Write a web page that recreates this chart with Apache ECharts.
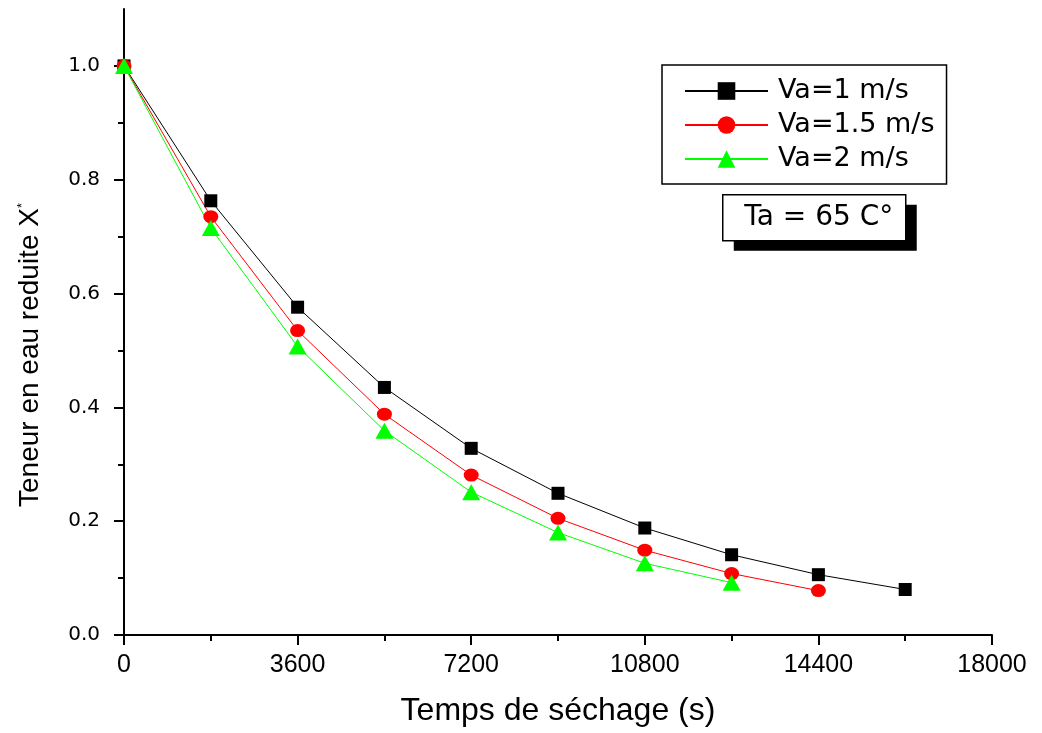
<!DOCTYPE html>
<html>
<head>
<meta charset="utf-8">
<script src="https://cdn.jsdelivr.net/npm/echarts@6/dist/echarts.min.js"></script>
<style>html,body{margin:0;padding:0;background:#fff}#c{width:1042px;height:733px}</style>
</head>
<body>
<div id="c"></div>
<script>
const times = [0, 1800, 3600, 5400, 7200, 9000, 10800, 12600, 14400, 16200];
const va1 = [1.0, 0.763, 0.576, 0.435, 0.328, 0.249, 0.188, 0.141, 0.106, 0.080];
const va15 = [1.0, 0.735, 0.535, 0.388, 0.281, 0.205, 0.149, 0.108, 0.078];
const va2 = [1.0, 0.715, 0.507, 0.359, 0.251, 0.180, 0.126, 0.092];
const seriesNames = ['Va=1 m/s', 'Va=1.5 m/s', 'Va=2 m/s'];
const yMajorTicks = [0, 0.2, 0.4, 0.6, 0.8, 1.0];
const yMinorTicks = [0.1, 0.3, 0.5, 0.7, 0.9];
const xTicks = [0, 3600, 7200, 10800, 14400, 18000];
const annotation = 'Ta = 65 C°';

function pairs(ys) { return ys.map((y, i) => [times[i], y]); }

const chart = echarts.init(document.getElementById('c'), null, {renderer: 'canvas'});
const axisLineStyle = {color: '#000', width: 2};
chart.setOption({
  animation: false,
  backgroundColor: '#fff',
  grid: {left: 124, right: 50, top: 9, bottom: 98, containLabel: false},
  xAxis: {
    type: 'value', min: xTicks[0], max: xTicks[xTicks.length - 1], interval: 3600,
    splitLine: {show: false},
    axisLine: {lineStyle: axisLineStyle},
    axisTick: {length: 10, lineStyle: {color: '#000', width: 2}},
    minorTick: {show: true, splitNumber: 2, length: 6, lineStyle: {color: '#000', width: 2}},
    axisLabel: {margin: 18, color: '#000', fontFamily: 'Liberation Sans', fontSize: 25,
      formatter: v => String(v)},
    name: 'Temps de séchage (s)', nameLocation: 'middle', nameGap: 60,
    nameTextStyle: {color: '#000', fontFamily: 'Liberation Sans', fontSize: 32}
  },
  yAxis: [{
    type: 'value', min: 0, max: 1.1, position: 'left',
    splitLine: {show: false},
    axisLine: {show: true, lineStyle: axisLineStyle},
    axisTick: {length: 10, customValues: yMajorTicks, lineStyle: {color: '#000', width: 2}},
    axisLabel: {margin: 24, color: '#000', fontFamily: 'DejaVu Sans', fontSize: 20,
      customValues: yMajorTicks, formatter: v => v.toFixed(1)},
    name: 'Teneur en eau reduite X{sup|*}', nameLocation: 'middle', nameGap: 80,
    nameTextStyle: {color: '#000', fontFamily: 'Liberation Sans', fontSize: 28,
      padding: [0, 66, 0, 0],
      rich: {sup: {fontSize: 13, verticalAlign: 'top', fontFamily: 'Liberation Sans', color: '#000'}}}
  }, {
    type: 'value', min: 0, max: 1.1, position: 'left',
    splitLine: {show: false},
    axisLine: {show: false},
    axisTick: {length: 6, customValues: yMinorTicks, lineStyle: {color: '#000', width: 2}},
    axisLabel: {show: false}
  }],
  legend: {
    orient: 'vertical', left: 662, top: 65,
    padding: [12, 12, 11, 22], itemGap: 6,
    itemWidth: 83, itemHeight: 22,
    borderColor: '#000', borderWidth: 1.5, backgroundColor: '#fff',
    textStyle: {color: '#000', fontFamily: 'DejaVu Sans', fontSize: 27, lineHeight: 28, padding: [0, 0, 0, 5]},
    data: seriesNames
  },
  graphic: [{
    type: 'group', left: 722, top: 194,
    children: [
      {type: 'rect', shape: {x: 11, y: 10, width: 183, height: 46}, style: {fill: '#000'}},
      {type: 'rect', shape: {x: 0, y: 0, width: 183, height: 46}, style: {fill: '#fff', stroke: '#000', lineWidth: 1.5}},
      {type: 'text', x: 96, y: 23, style: {text: annotation, fill: '#000', font: '28px "DejaVu Sans"', align: 'center', verticalAlign: 'middle'}}
    ]
  }],
  series: [
    {name: seriesNames[0], type: 'line', data: pairs(va1), symbol: 'rect', symbolSize: 13,
      lineStyle: {color: '#000', width: 1}, itemStyle: {color: '#000'}},
    {name: seriesNames[1], type: 'line', data: pairs(va15), symbol: 'circle', symbolSize: [15, 13],
      lineStyle: {color: '#ff0000', width: 1}, itemStyle: {color: '#ff0000'}},
    {name: seriesNames[2], type: 'line', data: pairs(va2), symbol: 'triangle', symbolSize: [18, 16],
      lineStyle: {color: '#00ff00', width: 1}, itemStyle: {color: '#00ff00'}}
  ]
});
</script>
</body>
</html>
